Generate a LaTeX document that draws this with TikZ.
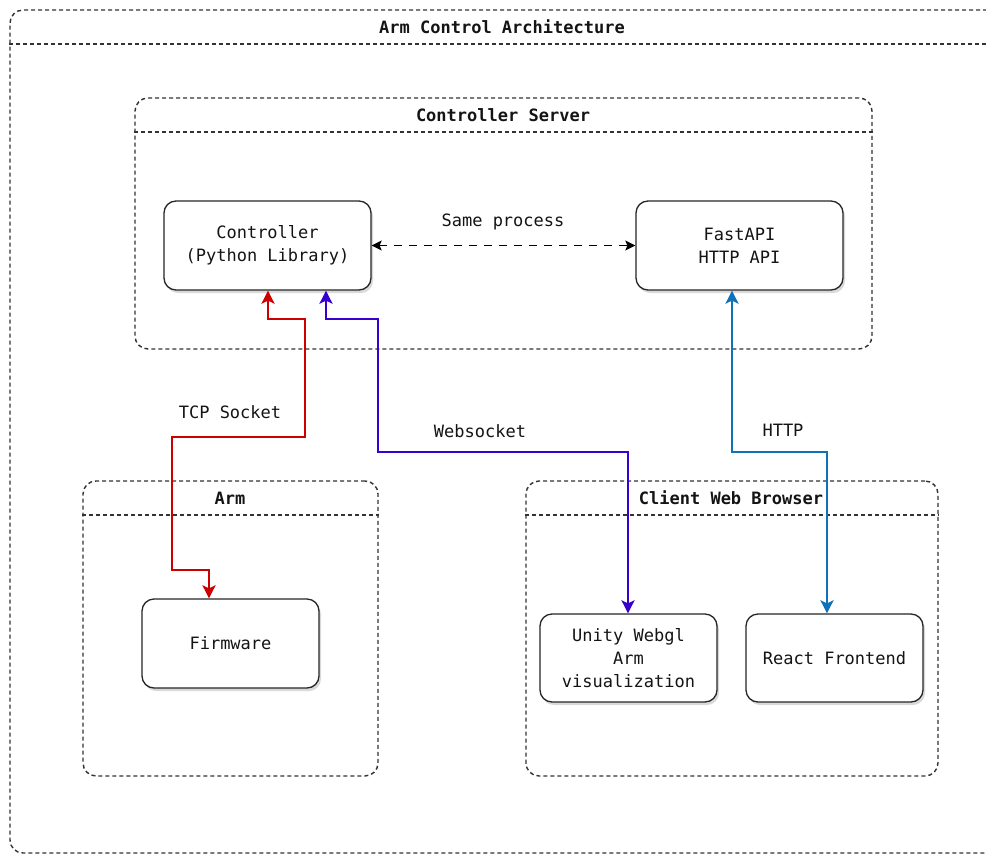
\documentclass[tikz,border=0pt]{standalone}
\usepackage{fontspec}
\setmainfont{DejaVu Sans Mono}
\usetikzlibrary{arrows.meta,shadows}
\definecolor{redc}{RGB}{204,0,0}
\definecolor{purc}{RGB}{55,0,204}
\definecolor{bluc}{RGB}{16,115,185}
\definecolor{txt}{RGB}{20,20,20}
\begin{document}
\begin{tikzpicture}[x=1pt,y=-1pt,
  font=\fontsize{17}{23}\selectfont, text=txt,
  >={Stealth[length=13pt,width=13pt,inset=3pt]},
  box/.style={draw=black!85, line width=1.3pt, rounded corners=12pt, fill=white,
    align=center, inner sep=0pt,
    drop shadow={shadow xshift=2pt, shadow yshift=-3pt, opacity=0.15, fill=black}},
  container/.style={draw=black!80, line width=1.4pt, dash pattern=on 4pt off 3pt,
    rounded corners=13pt, fill=white, inner sep=0pt},
  headline/.style={draw=black!80, line width=1.4pt, dash pattern=on 4pt off 3pt},
  ctitle/.style={font=\fontsize{17}{23}\selectfont\bfseries, inner sep=0pt},
  lbl/.style={inner sep=0pt},
  conn/.style={line width=2.4pt, <->},
]
\clip (0,0) rectangle (986,854);
\fill[white] (0,0) rectangle (986,854);

% containers
\node[container, minimum width=990pt, minimum height=843pt] (outer) at (505,431.5) {};
\coordinate (outerh) at (0,44);
\draw[headline] (outer.west |- outerh) -- (outer.east |- outerh);
\node[ctitle] (outert) at (502,27) {Arm Control Architecture};

\node[container, minimum width=737pt, minimum height=251pt] (cs) at (503.5,223.5) {};
\coordinate (csh) at (0,132);
\draw[headline] (cs.west |- csh) -- (cs.east |- csh);
\node[ctitle] (cst) at (503,115) {Controller Server};

\node[container, minimum width=295pt, minimum height=295pt] (arm) at (230.5,628.5) {};
\coordinate (armh) at (0,515);
\draw[headline] (arm.west |- armh) -- (arm.east |- armh);
\node[ctitle] (armt) at (230,498) {Arm};

\node[container, minimum width=412pt, minimum height=295pt] (cwb) at (732,628.5) {};
\coordinate (cwbh) at (0,515);
\draw[headline] (cwb.west |- cwbh) -- (cwb.east |- cwbh);
\node[ctitle] (cwbt) at (731,498) {Client Web Browser};

% nodes
\node[box, minimum width=207pt, minimum height=89pt] (ctrl) at (267.5,245.5) {Controller\\(Python Library)};
\node[box, minimum width=207pt, minimum height=89pt] (api) at (739.5,245.5) {FastAPI\\HTTP API};
\node[box, minimum width=177pt, minimum height=89pt] (fw) at (230.5,643.5) {Firmware};
\node[box, minimum width=177pt, minimum height=88pt] (unity) at (628.5,658) {Unity Webgl\\Arm\\visualization};
\node[box, minimum width=177pt, minimum height=88pt] (react) at (834.5,658) {React Frontend};

% connectors
\draw[line width=1.4pt, dash pattern=on 8pt off 7pt, <->, >={Stealth[length=10pt,width=10pt,inset=2pt]}]
  (ctrl.east) -- (api.west);
\node[lbl] (samep) at (503,222) {Same process};

\draw[conn, redc] ([xshift=0.5pt]ctrl.south) -- (268,319) -- (305,319) -- (305,437) -- (172,437)
  -- (172,570) -- (209,570) -- ([xshift=-21.5pt]fw.north);
\node[lbl] (tcp) at (230,412) {TCP Socket};

\draw[conn, purc] ([xshift=58.5pt]ctrl.south) -- (326,319) -- (378,319) -- (378,452) -- (628,452)
  -- ([xshift=-0.5pt]unity.north);
\node[lbl] (ws) at (480,431) {Websocket};

\draw[conn, bluc] ([xshift=-7.5pt]api.south) -- (732,452) -- (827,452) -- ([xshift=-7.5pt]react.north);
\node[lbl] (http) at (783,430) {HTTP};
\end{tikzpicture}
\end{document}
